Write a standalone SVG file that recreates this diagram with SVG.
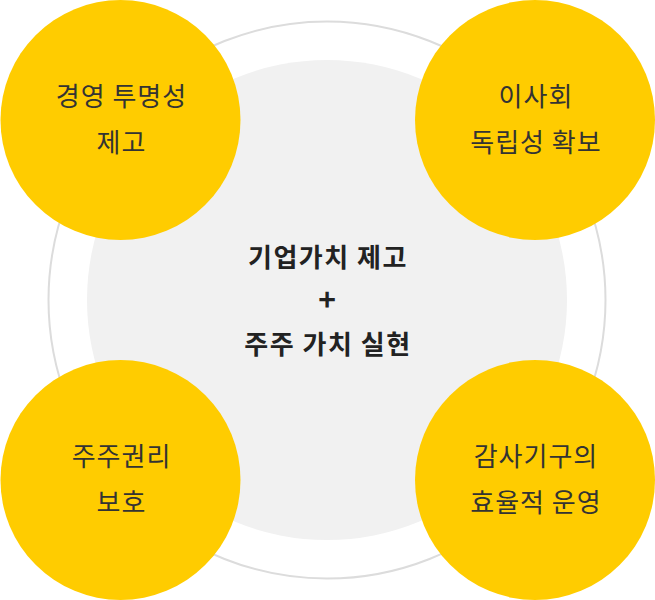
<svg xmlns="http://www.w3.org/2000/svg" width="655" height="600" viewBox="0 0 655 600">
<style>
.y{fill:#ffcc00}
.t{font-family:"Noto Sans CJK KR","Noto Sans",sans-serif;font-size:26px;letter-spacing:1px;fill:#333;text-anchor:middle}
.c{font-family:"Noto Sans CJK KR","Noto Sans",sans-serif;font-size:26px;letter-spacing:1.5px;font-weight:bold;fill:#222;text-anchor:middle}
</style>
<rect width="655" height="600" fill="#fff"/>
<g id="center">
<circle cx="327" cy="300" r="278.5" fill="none" stroke="#dcdcdc" stroke-width="2"/>
<circle cx="327" cy="300" r="240" fill="#f1f1f1"/>
<text class="c" x="328" y="267">기업가치 제고</text>
<text class="c" x="327" y="311" style="font-size:30px;letter-spacing:0">+</text>
<text class="c" x="328" y="354">주주 가치 실현</text>
</g>
<g id="n1"><circle class="y" cx="120.5" cy="120" r="120"/>
<text class="t" x="121.5" y="106">경영 투명성</text><text class="t" x="121.5" y="152">제고</text></g>
<g id="n2"><circle class="y" cx="535" cy="120" r="120"/>
<text class="t" x="536" y="106">이사회</text><text class="t" x="536" y="152">독립성 확보</text></g>
<g id="n3"><circle class="y" cx="120.5" cy="480" r="120"/>
<text class="t" x="121.5" y="466">주주권리</text><text class="t" x="121.5" y="512">보호</text></g>
<g id="n4"><circle class="y" cx="535" cy="480" r="120"/>
<text class="t" x="536" y="466">감사기구의</text><text class="t" x="536" y="512">효율적 운영</text></g>
<g id="connectors"/>
</svg>
